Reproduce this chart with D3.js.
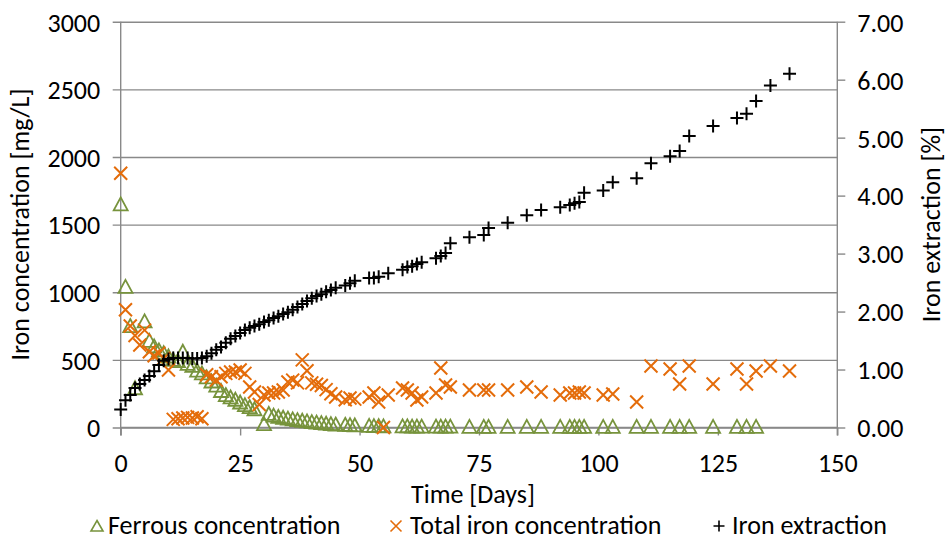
<!DOCTYPE html>
<html>
<head>
<meta charset="utf-8">
<script src="https://cdn.jsdelivr.net/npm/d3@7/dist/d3.min.js"></script>
<style>
  body { margin: 0; background: #fff; }
  svg text { font-family: Carlito, Calibri, Lato, sans-serif; fill: #000; }
</style>
</head>
<body>
<div id="chart"></div>
<script>
// ferrous concentration (mg/L)
const ferrousDays = [0,1,2,3,5,6,7,8,9,10,11,12,13,14,15,16,17,18,19,20,21,22,23,24,25,26,27,28,30,31,32,33,34,35,36,37,38,39,40,41,42,43,44,45,47,48,49,52,53,54,55,59,60,61,62,63,66,67,68,69,73,76,77,81,85,88,92,94,95,96,97,101,103,108,111,115,117,119,124,129,131,133];
const ferrousConc = [1650,1040,750,290,785,640,600,570,550,525,500,490,560,470,455,420,400,370,340,310,270,240,222,205,185,165,150,135,25,100,88,78,72,66,60,55,50,45,40,36,32,28,25,22,20,18,15,12,10,10,8,8,8,7,7,7,6,6,6,6,5,5,5,5,5,5,5,5,5,5,5,5,5,5,5,5,5,5,5,5,5,5];

// total iron concentration (mg/L)
const totalDays = [0,1,2,3,4,5,6,7,8,9,10,11,12,13,14,15,16,17,18,19,20,21,22,23,24,25,26,27,28,29,30,31,32,33,34,35,36,37,38,39,40,41,42,43,44,45,47,48,49,52,53,54,55,56,59,60,61,62,63,66,67,68,69,73,76,77,81,85,88,92,94,95,96,97,101,103,108,111,115,117,119,124,129,131,133,136,140];
const totalConc = [1880,870,750,680,610,720,560,530,550,510,425,60,65,70,75,70,80,65,390,375,350,375,400,410,410,425,400,300,263,170,240,255,255,263,277,336,350,330,500,420,330,320,310,280,250,226,205,218,210,226,255,189,0,240,292,277,255,203,226,255,440,314,300,277,277,277,277,300,263,240,255,255,263,255,240,248,189,455,433,322,455,322,433,322,418,455,418];

// iron extraction (%)
const extractionDays = [0,1,2,3,4,5,6,7,8,9,10,11,12,13,14,15,16,17,18,19,20,21,22,23,24,25,26,27,28,29,30,31,32,33,34,35,36,37,38,39,40,41,42,43,44,45,47,48,49,52,53,54,56,59,60,61,62,63,66,67,68,69,73,76,77,81,85,88,92,94,95,96,97,101,103,108,111,115,117,119,124,129,131,133,136,140];
const extractionPct = [0.31,0.47,0.56,0.68,0.75,0.82,0.89,0.97,1.08,1.15,1.18,1.20,1.20,1.20,1.20,1.19,1.19,1.20,1.23,1.28,1.34,1.39,1.46,1.53,1.58,1.63,1.68,1.72,1.75,1.78,1.82,1.85,1.89,1.92,1.96,1.99,2.03,2.08,2.13,2.18,2.23,2.27,2.30,2.34,2.37,2.41,2.45,2.49,2.53,2.58,2.58,2.60,2.66,2.72,2.77,2.78,2.82,2.85,2.92,2.96,3.01,3.18,3.28,3.32,3.44,3.53,3.66,3.75,3.80,3.84,3.87,3.89,4.05,4.09,4.23,4.30,4.56,4.68,4.77,5.03,5.20,5.34,5.41,5.63,5.90,6.10];

const xTicks = [0,25,50,75,100,125,150];
const leftTicks = [0,500,1000,1500,2000,2500,3000];
const rightTicks = [0,1,2,3,4,5,6,7];

const width = 949, height = 540;
const plotL = 120.7, plotR = 837.3, plotT = 21.7, plotB = 427.5;
const gridColor = "#898989";
const fs = 26;

const svg = d3.select("#chart").append("svg")
  .attr("width", width)
  .attr("height", height);

const x = d3.scaleLinear().domain([0, 150]).range([plotL, plotR]);
const yL = d3.scaleLinear().domain([0, 3000]).range([plotB, plotT]);
const yR = d3.scaleLinear().domain([0, 7]).range([plotB, plotT]);

// gridlines (with the small outer tick on the left)
svg.append("g")
  .attr("transform", `translate(${plotL},0)`)
  .call(d3.axisLeft(yL).tickValues(leftTicks).tickSize(8).tickPadding(12.5).tickFormat(d3.format("d")))
  .call(g => g.select(".domain").remove())
  .call(g => g.selectAll(".tick line").attr("x2", -8).attr("x1", plotR - plotL)
      .attr("stroke", gridColor).attr("stroke-width", 1.4))
  .call(g => g.selectAll(".tick text").attr("font-size", fs).attr("dy", "0.36em"));

// right axis
svg.append("g")
  .attr("transform", `translate(${plotR},0)`)
  .call(d3.axisRight(yR).tickValues(rightTicks).tickSize(8).tickPadding(12).tickFormat(d3.format(".2f")))
  .call(g => g.select(".domain").remove())
  .call(g => g.selectAll(".tick line").attr("stroke", gridColor).attr("stroke-width", 1.4))
  .call(g => g.selectAll(".tick text").attr("font-size", fs).attr("dy", "0.36em"));

// bottom axis
svg.append("g")
  .attr("transform", `translate(0,${plotB})`)
  .call(d3.axisBottom(x).tickValues(xTicks).tickSize(8).tickPadding(18))
  .call(g => g.select(".domain").remove())
  .call(g => g.selectAll(".tick line").attr("stroke", gridColor).attr("stroke-width", 1.4))
  .call(g => g.selectAll(".tick text").attr("font-size", fs).attr("dy", "0.71em"));

svg.selectAll("g").attr("font-family", null).attr("font-size", null);

// axis lines
svg.append("line").attr("x1", plotL).attr("x2", plotL).attr("y1", plotT).attr("y2", plotB + 8)
  .attr("stroke", gridColor).attr("stroke-width", 1.4);
svg.append("line").attr("x1", plotR).attr("x2", plotR).attr("y1", plotT).attr("y2", plotB + 8)
  .attr("stroke", gridColor).attr("stroke-width", 1.4);
svg.append("line").attr("x1", plotL).attr("x2", plotR).attr("y1", plotB).attr("y2", plotB)
  .attr("stroke", gridColor).attr("stroke-width", 1.4);

const triPath = "M0,-7L7,6L-7,6Z";
const xPath = "M-6.5,-6.5L6.5,6.5M-6.5,6.5L6.5,-6.5";
const plusPath = "M-6.5,0H6.5M0,-6.5V6.5";

const green = "#77933C", orange = "#E46C0A";

// series
svg.append("g").selectAll("path")
  .data(ferrousDays.map((d, i) => [d, ferrousConc[i]]))
  .join("path")
  .attr("d", triPath)
  .attr("transform", d => `translate(${x(d[0])},${yL(d[1])})`)
  .attr("fill", "none").attr("stroke", green).attr("stroke-width", 1.8);

svg.append("g").selectAll("path")
  .data(totalDays.map((d, i) => [d, totalConc[i]]))
  .join("path")
  .attr("d", xPath)
  .attr("transform", d => `translate(${x(d[0])},${yL(d[1])})`)
  .attr("fill", "none").attr("stroke", orange).attr("stroke-width", 2);

svg.append("g").selectAll("path")
  .data(extractionDays.map((d, i) => [d, extractionPct[i]]))
  .join("path")
  .attr("d", plusPath)
  .attr("transform", d => `translate(${x(d[0])},${yR(d[1])})`)
  .attr("fill", "none").attr("stroke", "#000").attr("stroke-width", 2);

// axis titles
svg.append("text")
  .attr("transform", `translate(29,${(plotT + plotB) / 2}) rotate(-90)`)
  .attr("text-anchor", "middle").attr("font-size", fs)
  .text("Iron concentration [mg/L]");
svg.append("text")
  .attr("transform", `translate(940,${(plotT + plotB) / 2}) rotate(-90)`)
  .attr("text-anchor", "middle").attr("font-size", fs)
  .text("Iron extraction [%]");
svg.append("text")
  .attr("x", 473).attr("y", 503)
  .attr("text-anchor", "middle").attr("font-size", fs)
  .text("Time [Days]");

// legend
const legend = [
  {label: "Ferrous concentration", path: "M0,-5.5L6,5L-6,5Z", color: green, mx: 97, tx: 108},
  {label: "Total iron concentration", path: "M-5.5,-5.5L5.5,5.5M-5.5,5.5L5.5,-5.5", color: orange, mx: 396, tx: 410},
  {label: "Iron extraction", path: "M-5.5,0H5.5M0,-5.5V5.5", color: "#000", mx: 719, tx: 732}
];
const lg = svg.append("g");
lg.selectAll("path").data(legend).join("path")
  .attr("d", d => d.path)
  .attr("transform", d => `translate(${d.mx},526)`)
  .attr("fill", "none").attr("stroke", d => d.color).attr("stroke-width", 1.6);
lg.selectAll("text").data(legend).join("text")
  .attr("x", d => d.tx).attr("y", 534)
  .attr("font-size", fs)
  .text(d => d.label);
</script>
</body>
</html>
